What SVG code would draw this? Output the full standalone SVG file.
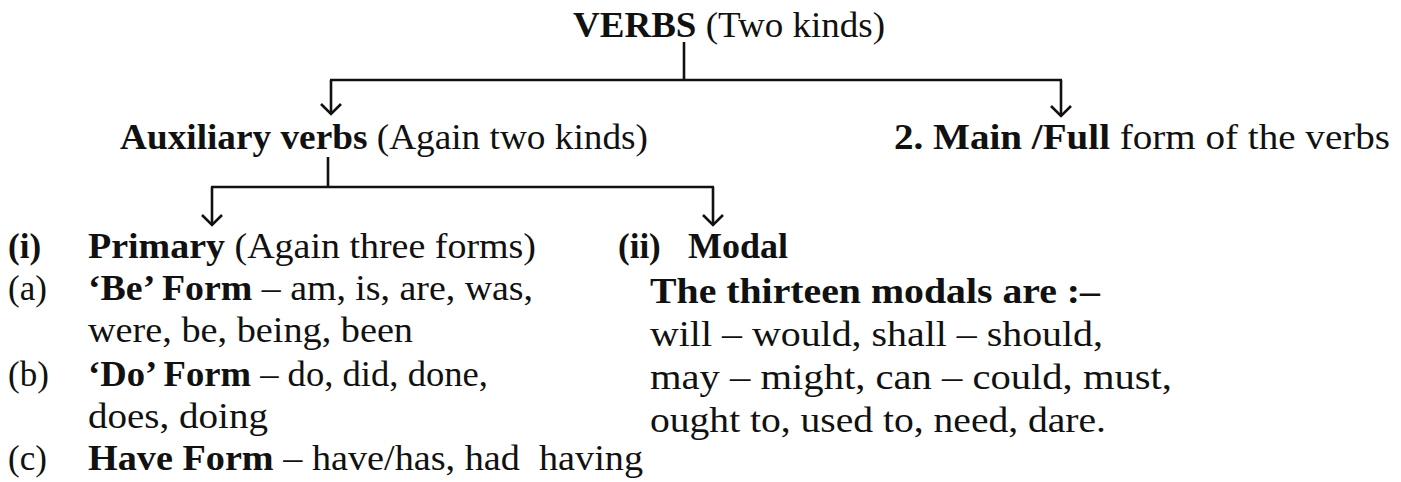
<svg xmlns="http://www.w3.org/2000/svg" width="1401" height="482" viewBox="0 0 1401 482">
  <style>
    text { font-family: "Liberation Serif", "Times New Roman", serif; font-size: 35px; fill: #111; white-space: pre; }
    .b { font-weight: bold; }
    .conn { stroke: #111; stroke-width: 2.6; fill: none; }
  </style>
  <defs>
    <marker id="arr" markerUnits="userSpaceOnUse" markerWidth="24" markerHeight="24" viewBox="-12 -12 24 24" refX="0" refY="0" orient="auto">
      <path d="M-10,-10 L0,0 L-10,10" fill="none" stroke="#111" stroke-width="2.6"/>
    </marker>
  </defs>
  <rect width="1401" height="482" fill="#ffffff"/>

  <g id="connectors">
    <path class="conn" d="M684,42 V80"/>
    <path class="conn" d="M330,80 H1062"/>
    <path class="conn" d="M331,80 V114" marker-end="url(#arr)"/>
    <path class="conn" d="M1061,80 V116" marker-end="url(#arr)"/>
    <path class="conn" d="M328,157 V187"/>
    <path class="conn" d="M211,187 H714"/>
    <path class="conn" d="M212,187 V225" marker-end="url(#arr)"/>
    <path class="conn" d="M713,187 V225" marker-end="url(#arr)"/>
  </g>

  <g id="node-verbs">
    <text x="573" y="37" textLength="312" lengthAdjust="spacingAndGlyphs"><tspan class="b">VERBS</tspan> (Two kinds)</text>
  </g>
  <g id="node-auxiliary">
    <text x="120" y="149" textLength="528" lengthAdjust="spacingAndGlyphs"><tspan class="b">Auxiliary verbs</tspan> (Again two kinds)</text>
  </g>
  <g id="node-main">
    <text x="894" y="149" textLength="496" lengthAdjust="spacingAndGlyphs"><tspan class="b">2. Main /Full</tspan> form of the verbs</text>
  </g>
  <g id="node-primary">
    <text x="8" y="258" class="b">(i)</text>
    <text x="88" y="258" textLength="448" lengthAdjust="spacingAndGlyphs"><tspan class="b">Primary</tspan> (Again three forms)</text>
    <text x="8" y="300">(a)</text>
    <text x="88" y="300" textLength="445" lengthAdjust="spacingAndGlyphs"><tspan class="b">‘Be’ Form</tspan> – am, is, are, was,</text>
    <text x="88" y="342" textLength="325" lengthAdjust="spacingAndGlyphs">were, be, being, been</text>
    <text x="8" y="386">(b)</text>
    <text x="88" y="386" textLength="400" lengthAdjust="spacingAndGlyphs"><tspan class="b">‘Do’ Form</tspan> – do, did, done,</text>
    <text x="88" y="428" textLength="180" lengthAdjust="spacingAndGlyphs">does, doing</text>
    <text x="8" y="470">(c)</text>
    <text x="88" y="470" textLength="555" lengthAdjust="spacingAndGlyphs"><tspan class="b">Have Form</tspan> – have/has, had  having</text>
  </g>
  <g id="node-modal">
    <text x="618" y="258" class="b">(ii)</text>
    <text x="688" y="258" class="b" textLength="100" lengthAdjust="spacingAndGlyphs">Modal</text>
    <text x="650" y="303" class="b" textLength="450" lengthAdjust="spacingAndGlyphs">The thirteen modals are :–</text>
    <text x="650" y="346" textLength="453" lengthAdjust="spacingAndGlyphs">will – would, shall – should,</text>
    <text x="650" y="389" textLength="522" lengthAdjust="spacingAndGlyphs">may – might, can – could, must,</text>
    <text x="650" y="432" textLength="456" lengthAdjust="spacingAndGlyphs">ought to, used to, need, dare.</text>
  </g>
</svg>
